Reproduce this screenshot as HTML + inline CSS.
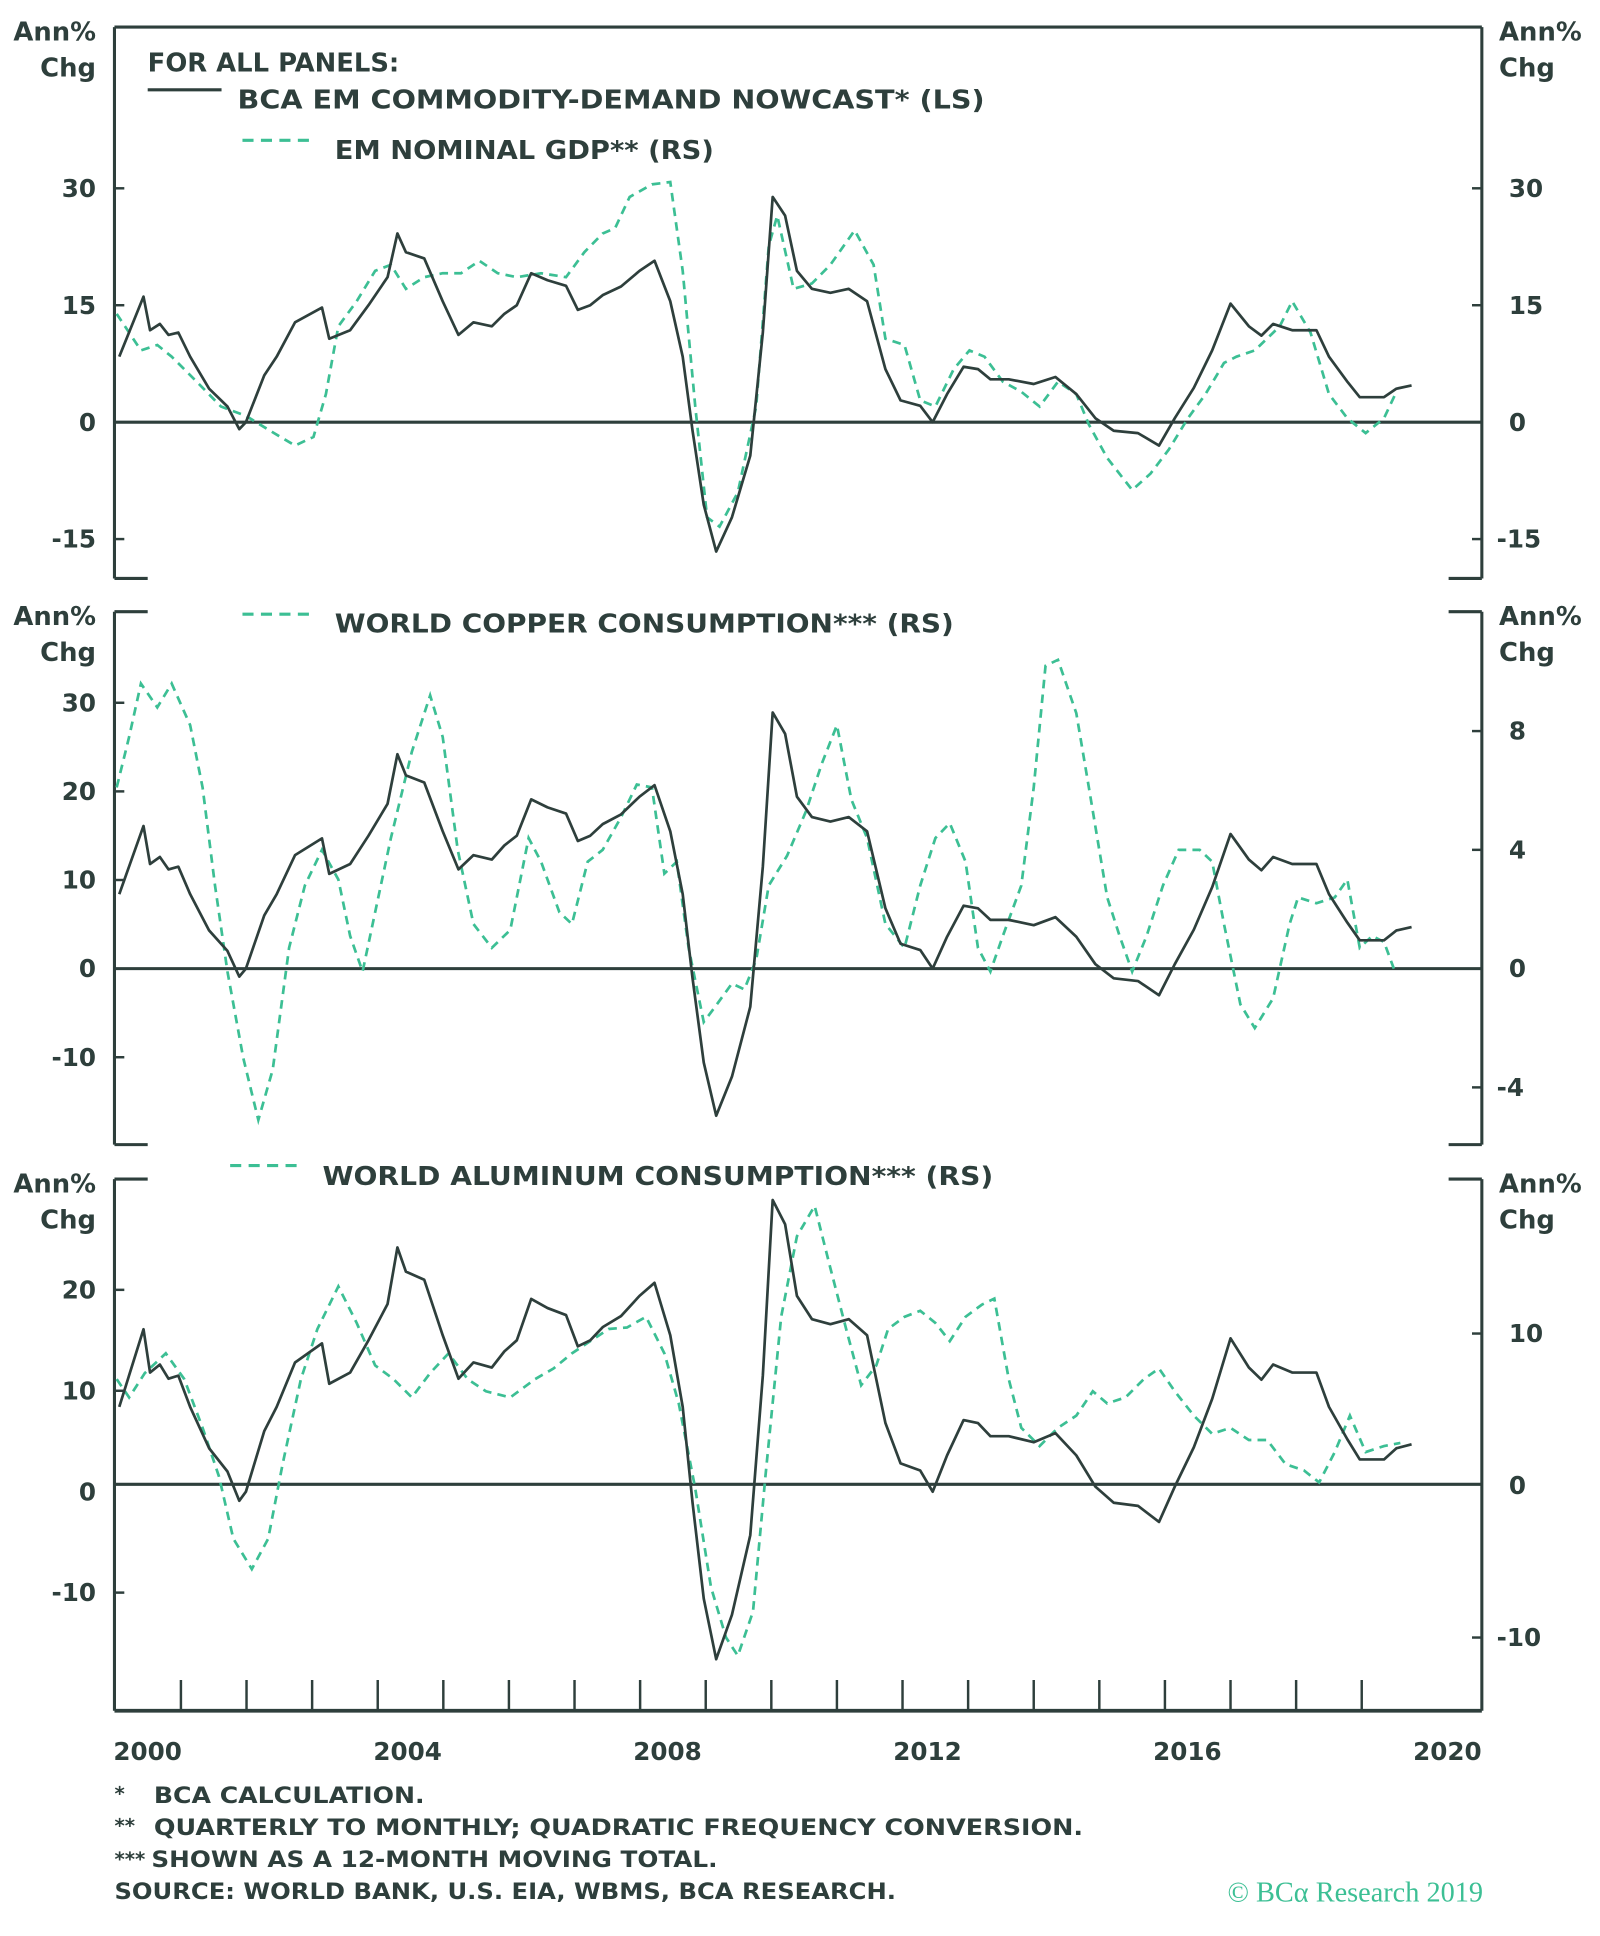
<!DOCTYPE html>
<html><head><meta charset="utf-8"><style>
html,body{margin:0;padding:0;background:#fff;}
svg{display:block;}
text{font-family:"DejaVu Sans","Liberation Sans",sans-serif;font-weight:bold;fill:#2e3f3c;}
</style></head><body>
<svg id="chart" width="1600" height="1936" viewBox="0 0 1300 1573" xmlns="http://www.w3.org/2000/svg">
<g id="static"></g>
<g id="marks"></g>
</svg>
<script>
// ---- data (years since 2000, values) ----
const nowcastYrs = [0.06,0.30,0.43,0.53,0.68,0.81,0.96,1.14,1.43,1.71,1.89,1.99,2.27,2.46,2.74,3.15,3.26,3.58,3.86,4.15,4.30,4.43,4.71,4.99,5.23,5.46,5.74,5.93,6.12,6.34,6.59,6.87,7.05,7.24,7.43,7.71,7.99,8.22,8.46,8.65,8.80,8.97,9.16,9.40,9.68,9.87,10.02,10.21,10.39,10.62,10.90,11.18,11.46,11.74,11.97,12.27,12.46,12.68,12.93,13.15,13.34,13.62,14.00,14.33,14.65,14.94,15.22,15.59,15.91,16.15,16.44,16.72,17.00,17.28,17.47,17.65,17.94,18.31,18.50,18.78,18.97,19.34,19.53,19.76];
const nowcastVals = [8.4,13.4,16.1,11.8,12.6,11.2,11.5,8.4,4.3,2.0,-0.9,0,6,8.4,12.8,14.7,10.7,11.8,15,18.6,24.2,21.8,21,15.5,11.2,12.8,12.3,13.9,15,19.1,18.2,17.5,14.4,15,16.3,17.4,19.4,20.7,15.5,8.4,-1.1,-10.6,-16.6,-12.2,-4.3,11.5,28.9,26.5,19.4,17.1,16.6,17.1,15.5,6.8,2.8,2.1,0,3.6,7.1,6.8,5.5,5.5,4.9,5.8,3.6,0.5,-1.1,-1.4,-3,0.5,4.4,9.2,15.2,12.3,11.1,12.6,11.8,11.8,8.4,5.2,3.2,3.2,4.3,4.7];
const gdpYrs = [0.02,0.21,0.39,0.64,0.86,1.24,1.61,1.99,2.36,2.74,3.02,3.21,3.40,3.68,3.96,4.20,4.43,4.71,4.99,5.27,5.55,5.83,6.12,6.49,6.87,7.15,7.43,7.62,7.84,8.18,8.46,8.65,8.84,9.02,9.21,9.49,9.77,9.96,10.09,10.34,10.62,10.90,11.27,11.56,11.74,12.03,12.27,12.50,12.78,13.02,13.25,13.53,13.81,14.09,14.37,14.65,14.84,15.12,15.50,15.78,16.06,16.35,16.62,16.90,17.09,17.37,17.75,17.94,18.22,18.50,18.78,19.06,19.34,19.53];
const gdpVals = [13.9,11.5,9.2,9.9,8.4,5.2,2.0,0.8,-1.1,-3,-1.9,3.6,12.3,15.5,19.4,20.2,17.1,18.6,19.1,19.1,20.7,19.1,18.6,19.1,18.6,21.8,24.2,24.9,28.9,30.5,30.8,19.4,2,-12.2,-13.4,-9,2,22.6,26.5,17.1,17.8,20.2,24.6,20.2,10.7,9.9,2.8,2,6.8,9.2,8.4,5.2,3.9,2,5.2,3.6,-0.3,-4.6,-8.7,-6.6,-3.5,0.5,3.6,7.6,8.4,9.2,12.3,15.5,11.5,3.6,0.5,-1.4,0.5,3.9];
const copperYrs = [0.02,0.21,0.39,0.64,0.86,1.14,1.33,1.52,1.71,1.95,2.18,2.40,2.65,2.89,3.15,3.40,3.58,3.77,3.96,4.20,4.52,4.80,4.99,5.22,5.46,5.74,6.02,6.30,6.49,6.77,6.96,7.20,7.43,7.71,7.95,8.18,8.37,8.56,8.74,8.97,9.17,9.40,9.59,9.77,9.96,10.24,10.53,10.77,11.00,11.22,11.46,11.74,12.03,12.27,12.50,12.72,12.96,13.15,13.34,13.53,13.81,14.00,14.18,14.37,14.65,14.84,15.12,15.31,15.50,15.72,15.97,16.21,16.53,16.72,16.90,17.15,17.37,17.65,17.90,18.03,18.31,18.59,18.78,18.97,19.16,19.34,19.49];
const copperVals = [6.1,7.8,9.6,8.8,9.6,8.2,6.1,2.8,-0.1,-3.0,-5.1,-3.4,0.7,2.8,4.0,3.0,1.1,-0.1,1.9,4.4,7.3,9.2,7.8,4.0,1.5,0.7,1.3,4.4,3.6,1.9,1.5,3.6,4.0,5.1,6.2,6.1,3.2,3.6,0.7,-1.8,-1.2,-0.5,-0.7,0.3,2.8,3.8,5.3,6.9,8.2,5.7,4.4,1.5,0.7,2.8,4.4,4.9,3.6,0.7,-0.1,1.1,2.8,6.1,10.2,10.4,8.6,6.1,2.4,1.1,-0.1,1.1,2.8,4.0,4.0,3.6,1.5,-1.2,-2.0,-1.0,1.5,2.4,2.2,2.4,3.0,0.7,1.1,0.9,0];
const aluYrs = [0.02,0.21,0.45,0.77,1.05,1.33,1.58,1.80,2.08,2.33,2.55,2.83,3.08,3.40,3.68,3.96,4.24,4.52,4.80,5.08,5.37,5.65,6.02,6.40,6.68,6.96,7.24,7.52,7.80,8.09,8.37,8.59,8.84,9.08,9.31,9.49,9.72,9.91,10.15,10.39,10.66,10.90,11.14,11.37,11.60,11.78,12.03,12.27,12.50,12.72,12.96,13.21,13.40,13.62,13.81,14.09,14.37,14.65,14.90,15.12,15.40,15.68,15.91,16.15,16.44,16.72,17.00,17.28,17.56,17.84,18.12,18.35,18.59,18.82,19.06,19.34,19.59];
const aluVals = [7.0,5.8,7.4,8.7,7.0,3.8,0.6,-3.5,-5.5,-3.5,1.4,7.0,10.3,13.1,10.7,7.9,7.0,5.8,7.4,8.7,7.0,6.2,5.8,7.0,7.7,8.7,9.5,10.3,10.4,11.1,8.7,5.4,-0.2,-6.7,-10,-11.2,-8.3,0.6,11.1,16.4,18.4,14.3,10.3,6.6,7.9,10.3,11.1,11.5,10.7,9.5,11.1,11.9,12.3,7.0,3.8,2.6,3.8,4.6,6.2,5.4,5.8,7.0,7.7,6.2,4.6,3.4,3.8,3.0,3.0,1.4,1.0,0.2,2.2,4.6,2.2,2.6,2.8];
const yearLabels = [2000,2004,2008,2012,2016,2020];
const p1LeftTicks = [30,15,0,-15];
const p1RightTicks = [30,15,0,-15];
const p2LeftTicks = [30,20,10,0,-10];
const p2RightTicks = [8,4,0,-4];
const p3LeftTicks = [20,10,0,-10];
const p3RightTicks = [10,0,-10];

const NS='http://www.w3.org/2000/svg';
const st=document.getElementById('static'), mk=document.getElementById('marks');
const DARK='#2e3f3c', GREEN='#3cbf94';
const L=93, R=1204;
function xS(y){return 93.7 + y*53.3;}
function mkScale(zeroY, pxPerUnit){return v=>zeroY - v*pxPerUnit;}
function el(tag, attrs, parent){const e=document.createElementNS(NS,tag);for(const k in attrs)e.setAttribute(k,attrs[k]);(parent||st).appendChild(e);return e;}
function line(x1,y1,x2,y2,w){return el('line',{x1,y1,x2,y2,stroke:DARK,'stroke-width':w||2.5});}
function txt(x,y,s,anchor,size,fill){const t=el('text',{x,y,'text-anchor':anchor||'start','font-size':size||20});if(fill)t.setAttribute('style','fill:'+fill);t.textContent=s;return t;}
function fit(t,w){t.setAttribute('textLength',w);t.setAttribute('lengthAdjust','spacingAndGlyphs');}

const panels=[
 {top:22,bot:470,topFull:true,botFull:false,zero:343,ls:mkScale(343,95/15),rs:mkScale(343,95/15),lt:p1LeftTicks,rt:p1RightTicks,gy:gdpYrs,gv:gdpVals,name:'gdp'},
 {top:497,bot:930,topFull:false,botFull:false,zero:787,ls:mkScale(787,7.2),rs:mkScale(787,96.5/4),lt:p2LeftTicks,rt:p2RightTicks,gy:copperYrs,gv:copperVals,name:'copper'},
 {top:958,bot:1390,topFull:false,botFull:true,zero:1206,ls:mkScale(1212,8.2),rs:mkScale(1207,12.35),lt:p3LeftTicks,rt:p3RightTicks,gy:aluYrs,gv:aluVals,name:'aluminum'}
];
panels.forEach((p,i)=>{
  let e;
  e=line(L,p.top,L,p.bot);
  e=line(R,p.top,R,p.bot);
  if(p.topFull)line(L,p.top,R,p.top);else{line(L,p.top,120,p.top);line(1177,p.top,R,p.top);}
  if(p.botFull)line(L,p.bot,R,p.bot,3);else{line(L,p.bot,120,p.bot);line(1177,p.bot,R,p.bot);}
  e=line(L,p.zero,R,p.zero,2.5);
  txt(78,p.top+11,'Ann%','end',21);txt(78,p.top+40,'Chg','end',21);
  txt(1218,p.top+11,'Ann%','start',21);txt(1218,p.top+40,'Chg','start',21);
  p.lt.forEach(v=>{const y=p.ls(v);if(v!==0)line(L,y,L+8,y,2);const t=txt(78,y+7,String(v),'end',20);});
  p.rt.forEach(v=>{const y=p.rs(v);if(v!==0)line(R-8,y,R,y,2);const t=txt(v<0?1216:1226,y+7,String(v),'start',20);});
  const gd=p.gy.map((y,k)=>(k?'L':'M')+xS(y).toFixed(1)+','+p.rs(p.gv[k]).toFixed(1)).join('');
  const g=el('path',{d:gd,fill:'none',stroke:GREEN,'stroke-width':2.2,'stroke-dasharray':'7,5'},mk);
  
  
  const bd=nowcastYrs.map((y,k)=>(k?'L':'M')+xS(y).toFixed(1)+','+p.ls(nowcastVals[k]).toFixed(1)).join('');
  const b=el('path',{d:bd,fill:'none',stroke:DARK,'stroke-width':2.2,'stroke-linejoin':'round'},mk);
  
  
});
for(let yr=1;yr<20;yr++){line(xS(yr),1365,xS(yr),1390,2);}
yearLabels.forEach((yr,k)=>{const t=txt(120+k*211.2,1430,String(yr),'middle',20);});
txt(120,58,'FOR ALL PANELS:','start',21);
line(120,73,180,73,2.5);
let t=txt(193,88,'BCA EM COMMODITY-DEMAND NOWCAST* (LS)','start',21);fit(t,607);
el('line',{x1:197,y1:114,x2:257,y2:114,stroke:GREEN,'stroke-width':2.5,'stroke-dasharray':'9,6'});
t=txt(272,129,'EM NOMINAL GDP** (RS)','start',21);fit(t,308);
el('line',{x1:197,y1:499,x2:257,y2:499,stroke:GREEN,'stroke-width':2.5,'stroke-dasharray':'9,6'});
t=txt(272,514,'WORLD COPPER CONSUMPTION*** (RS)','start',21);fit(t,503);
el('line',{x1:187,y1:947,x2:245,y2:947,stroke:GREEN,'stroke-width':2.5,'stroke-dasharray':'9,6'});
t=txt(262,963,'WORLD ALUMINUM CONSUMPTION*** (RS)','start',21);fit(t,545);
txt(93,1463,'*','start',16);t=txt(125,1465,'BCA CALCULATION.','start',18);fit(t,220);
txt(93,1489,'**','start',16);t=txt(125,1491,'QUARTERLY TO MONTHLY; QUADRATIC FREQUENCY CONVERSION.','start',18);fit(t,755);
txt(93,1516,'***','start',16);t=txt(123,1517,'SHOWN AS A 12-MONTH MOVING TOTAL.','start',18);fit(t,460);
t=txt(93,1543,'SOURCE: WORLD BANK, U.S. EIA, WBMS, BCA RESEARCH.','start',18);fit(t,635);
t=el('text',{x:1205,y:1545,'text-anchor':'end','font-size':23,style:'fill:#3cbf94;font-family:"Liberation Serif",serif;font-weight:normal'});t.textContent='© BCα Research 2019';
</script>
</body></html>
